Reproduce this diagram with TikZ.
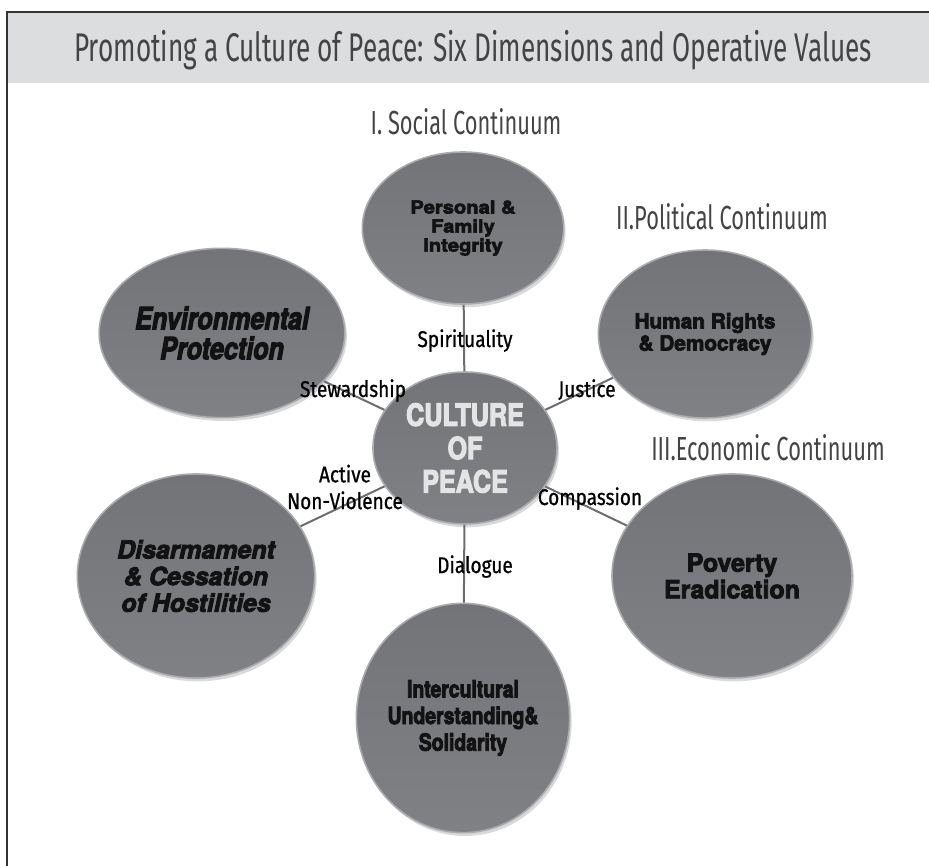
\documentclass[tikz,border=0pt]{standalone}
\usepackage{fontspec}
\usepackage{tikz}
\usetikzlibrary{shapes.geometric,shadows}
\newfontfamily\thinsans{Fira Sans}[FakeStretch=0.655]
\newfontfamily\valuesans{Fira Sans}[FakeStretch=0.84,FakeBold=0.8]
\newfontfamily\heavywide{TeX Gyre Heros}[FakeBold=3.5,FakeStretch=1.12]
\newfontfamily\heavysans{TeX Gyre Heros}[FakeBold=3.5]
\newfontfamily\heavycn{TeX Gyre Heros}[FakeBold=3.5,FakeStretch=0.82]
\definecolor{bandgray}{HTML}{DCDDDF}
\definecolor{framecol}{HTML}{333333}
\definecolor{titleink}{HTML}{444444}
\definecolor{discdark}{HTML}{727477}
\definecolor{disclight}{HTML}{7F8184}
\definecolor{rimgray}{HTML}{A9ABAE}
\definecolor{spokegray}{HTML}{6B6D70}
\definecolor{inkblack}{HTML}{121212}
\definecolor{peacewhite}{HTML}{E4E4E4}
\tikzset{
  disc/.style={ellipse, draw=rimgray, line width=1.2pt, top color=discdark,
    bottom color=disclight, inner sep=0pt, align=center, text=inkblack,
    drop shadow={shadow xshift=1.5pt, shadow yshift=-2.5pt, opacity=0.3}},
  spoke/.style={draw=spokegray, line width=1.5pt},
  value/.style={font=\valuesans\fontsize{17}{20}\selectfont, text=black, inner sep=0pt, align=center},
  continuum/.style={font=\thinsans\fontsize{25}{27}\selectfont, text=titleink, inner sep=0pt, anchor=base}
}
\begin{document}
\begin{tikzpicture}[x=0.75pt, y=-0.75pt]
\useasboundingbox (0,0) rectangle (929,866);
% frame and title band
\fill[bandgray] (7,12) rectangle (929,83);
\draw[framecol, line width=1.1pt] (7,866) -- (7,12) -- (929,12);
\node[font=\thinsans\fontsize{30}{32}\selectfont, text=titleink, inner sep=0pt, anchor=base] (title) at (473,62)
  {Promoting a Culture of Peace: Six Dimensions and Operative Values};
% continuum headings
\node[continuum] (social) at (466,135) {I. Social Continuum};
\node[continuum] (political) at (722,230) {II.Political Continuum};
\node[continuum] (economic) at (768,460) {III.Economic Continuum};
% the six dimensions round the centre
\node[disc, minimum width=138pt, minimum height=114pt, text=peacewhite,
  font=\heavycn\bfseries\fontsize{23}{25}\selectfont] (peace) at (465,448) {CULTURE\\OF\\PEACE};
\node[disc, minimum width=151pt, minimum height=114pt,
  font=\heavywide\bfseries\fontsize{13.5}{14.3}\selectfont] (personal) at (463,228) {Personal \&\\Family\\Integrity};
\node[disc, minimum width=160pt, minimum height=127pt,
  font=\heavycn\bfseries\itshape\fontsize{23}{22.5}\selectfont] (environ) at (222,333) {Environmental\\Protection};
\node[disc, minimum width=160pt, minimum height=126pt,
  font=\heavysans\bfseries\fontsize{15.6}{16.5}\selectfont] (rights) at (705,334) {Human Rights\\\& Democracy};
\node[disc, minimum width=180pt, minimum height=153pt,
  font=\heavysans\bfseries\fontsize{18.7}{20}\selectfont] (poverty) at (732,576) {Poverty\\Eradication};
\node[disc, minimum width=178pt, minimum height=153pt,
  font=\heavysans\bfseries\itshape\fontsize{18.7}{20}\selectfont] (disarm) at (196,576) {Disarmament\\\& Cessation\\of Hostilities};
\node[disc, minimum width=157pt, minimum height=172pt,
  font=\heavycn\bfseries\fontsize{17.7}{20}\selectfont] (intercult) at (463,718) {Intercultural\\Understanding\&\\Solidarity};
% spokes
\draw[spoke] (peace) -- (personal);
\draw[spoke] (peace) -- (rights);
\draw[spoke] (peace) -- (poverty);
\draw[spoke] (peace) -- (intercult);
\draw[spoke] (peace) -- (disarm);
\draw[spoke] (peace) -- (environ);
% operative values
\node[value, anchor=base] (spirit) at (465,347) {Spirituality};
\node[value, anchor=base] (steward) at (353,397) {Stewardship};
\node[value, anchor=base] (justice) at (587,397) {Justice};
\node[value, anchor=base] (compass) at (590,505) {Compassion};
\node[value, anchor=base] (dialog) at (475,573) {Dialogue};
\node[value] (nonviol) at (345,487) {Active\\Non-Violence};
\end{tikzpicture}
\end{document}
